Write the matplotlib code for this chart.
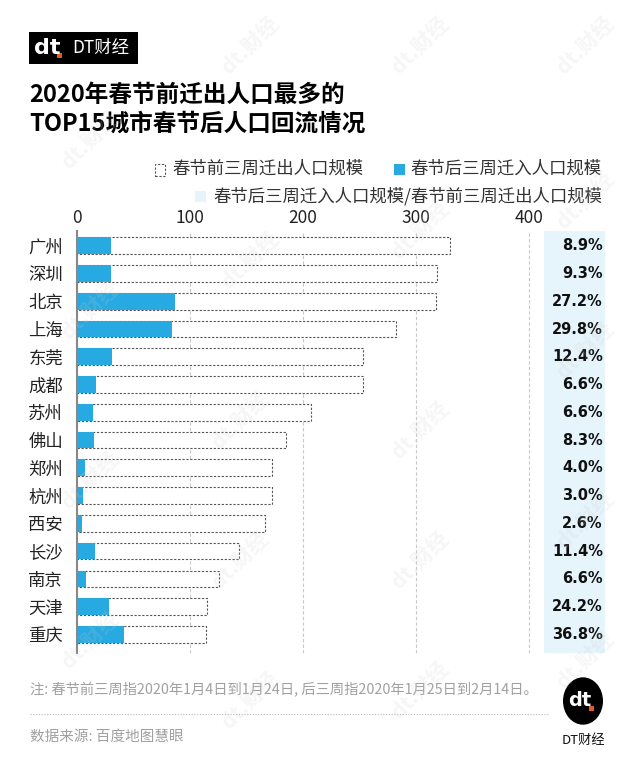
import matplotlib
matplotlib.use("Agg")
import matplotlib.pyplot as plt
from matplotlib.patches import Rectangle, Circle

plt.rcParams['font.family'] = ['Noto Sans CJK SC', 'DejaVu Sans']

# 数据 (单位: 万人, 从图上估读)
cities = ["广州", "深圳", "北京", "上海", "东莞", "成都", "苏州", "佛山",
          "郑州", "杭州", "西安", "长沙", "南京", "天津", "重庆"]
outflow = [330, 319, 318, 282, 253, 253, 207, 185, 173, 173, 166, 143, 126, 115, 114]
inflow = [30, 30, 87, 84, 31, 17, 14, 15, 7, 5, 4, 16, 8, 28, 42]
ratio_labels = ["8.9%", "9.3%", "27.2%", "29.8%", "12.4%", "6.6%", "6.6%", "8.3%",
                "4.0%", "3.0%", "2.6%", "11.4%", "6.6%", "24.2%", "36.8%"]
xticks = [0, 100, 200, 300, 400]

W, H = 641, 759
BLUE = "#27a9e1"
LIGHT = "#e6f4fc"


def fx(px):
    return px / W


def fy(py):
    return 1 - py / H


fig = plt.figure(figsize=(W / 100, H / 100), dpi=100)

# 左上角 logo
fig.patches.append(Rectangle((fx(29), fy(64)), fx(109), 32 / H, transform=fig.transFigure,
                             facecolor="black", edgecolor="none"))
fig.text(fx(34), fy(48), "dt", color="white", fontsize=16, fontweight="bold",
         va="center", ha="left", family="DejaVu Sans")
fig.patches.append(Rectangle((fx(57), fy(58)), 5 / W, 5 / H, transform=fig.transFigure,
                             facecolor="#e8562a", edgecolor="none"))
fig.text(fx(72), fy(48), "DT财经", color="white", fontsize=12.5, va="center", ha="left")

# 标题
fig.text(fx(29), fy(95), "2020年春节前迁出人口最多的", fontsize=17, fontweight="bold", va="center")
fig.text(fx(29), fy(124), "TOP15城市春节后人口回流情况", fontsize=17, fontweight="bold", va="center")

# 图例
fig.patches.append(Rectangle((fx(155), fy(176)), 10 / W, 12 / H, transform=fig.transFigure,
                             facecolor="white", edgecolor="#555555", linewidth=0.8,
                             linestyle=(0, (2, 1.5))))
fig.text(fx(172), fy(169), "春节前三周迁出人口规模", fontsize=12.5, va="center", color="#333333")
fig.patches.append(Rectangle((fx(394), fy(175)), 11 / W, 11 / H, transform=fig.transFigure,
                             facecolor=BLUE, edgecolor="none"))
fig.text(fx(410), fy(169), "春节后三周迁入人口规模", fontsize=12.5, va="center", color="#333333")
fig.patches.append(Rectangle((fx(195), fy(202)), 11 / W, 11 / H, transform=fig.transFigure,
                             facecolor=LIGHT, edgecolor="none"))
fig.text(fx(213), fy(196), "春节后三周迁入人口规模/春节前三周迁出人口规模", fontsize=12.5,
         va="center", color="#333333")

# 主图
ax = fig.add_axes([fx(77), fy(653), (605 - 77) / W, (653 - 231) / H])
xmax = (605 - 77) / 1.13
band_start = (544 - 77) / 1.13
ax.set_xlim(0, xmax)
ax.set_ylim(len(cities) - 1 + 0.67, -0.53)

ax.axvspan(band_start, xmax, color=LIGHT, zorder=0, linewidth=0)
for t in xticks[1:]:
    ax.axvline(t, color="#c8c8c8", linestyle=(0, (3, 2)), linewidth=0.8, zorder=1)

y = range(len(cities))
ax.barh(y, outflow, height=0.6, facecolor="white", edgecolor="#555555",
        linewidth=0.8, linestyle=(0, (2, 1.5)), zorder=2)
ax.barh(y, inflow, height=0.6, color=BLUE, zorder=3)

for i, lab in enumerate(ratio_labels):
    ax.text(0.996, i, lab, transform=ax.get_yaxis_transform(), ha="right", va="center",
            fontsize=10.5, fontweight="bold", color="#111111", family="DejaVu Sans")

ax.set_yticks(list(y))
ax.set_yticklabels(cities, fontsize=12.5, color="#222222")
ax.set_xticks(xticks)
ax.set_xticklabels([str(t) for t in xticks], fontsize=12.5, color="#222222")
ax.xaxis.tick_top()
ax.tick_params(axis="both", length=0)
ax.tick_params(axis="x", pad=3)
ax.tick_params(axis="y", pad=10)
for s in ["top", "right", "bottom"]:
    ax.spines[s].set_visible(False)
ax.spines["left"].set_color("#888888")
ax.spines["left"].set_linewidth(1.5)
ax.spines["left"].set_zorder(4)

# 注释与来源
fig.text(fx(30), fy(690), "注: 春节前三周指2020年1月4日到1月24日, 后三周指2020年1月25日到2月14日。",
         fontsize=10.3, color="#a0a0a0", va="center")
fig.add_artist(plt.Line2D([fx(30), fx(548)], [fy(714), fy(714)], transform=fig.transFigure,
                          color="#bbbbbb", linewidth=0.8, linestyle=(0, (1, 1.5))))
fig.text(fx(30), fy(737), "数据来源: 百度地图慧眼", fontsize=10.5, color="#a0a0a0", va="center")

# 右下角 logo
fig.patches.append(Circle((fx(583), fy(701)), 20 / W, transform=fig.transFigure,
                          facecolor="black", edgecolor="none"))
fig.text(fx(580), fy(701), "dt", color="white", fontsize=14, fontweight="bold",
         ha="center", va="center", family="DejaVu Sans")
fig.patches.append(Rectangle((fx(589), fy(711)), 5 / W, 5 / H, transform=fig.transFigure,
                             facecolor="#e8562a", edgecolor="none"))
fig.text(fx(583), fy(740), "DT财经", fontsize=9.5, color="#111111", ha="center", va="center")

# 水印 (淡)
for wx, wy in [(90, 140), (250, 45), (420, 45), (585, 45), (90, 310), (250, 260),
               (420, 230), (585, 200), (240, 420), (420, 430), (585, 350), (90, 480),
               (240, 560), (420, 560), (585, 520), (90, 640), (250, 700), (420, 690),
               (585, 660)]:
    fig.text(fx(wx), fy(wy), "dt.财经", fontsize=15, fontweight="bold", color="#cccccc",
             alpha=0.18, rotation=45, ha="center", va="center", zorder=10)

fig.savefig("out.png", dpi=100)
